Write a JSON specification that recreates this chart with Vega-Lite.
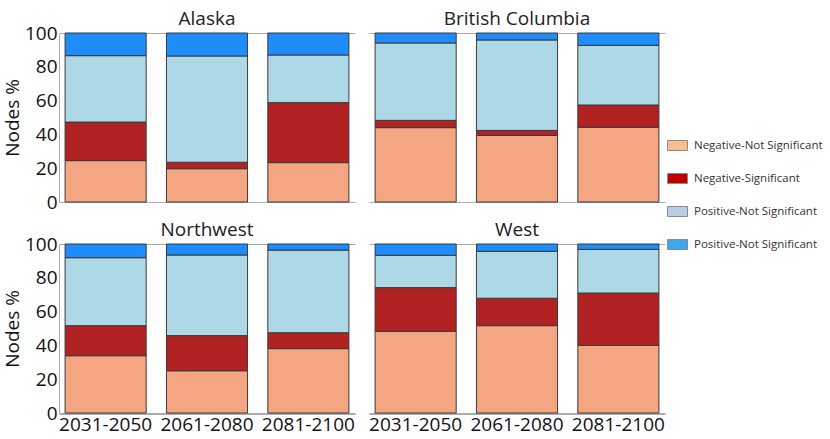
{
  "$schema": "https://vega.github.io/schema/vega-lite/v6.json",
  "background": "white",
  "padding": {"left": 3, "top": 9, "right": 2, "bottom": 2},
  "data": {"values": [
    {"region": "Alaska", "period": "2031-2050", "cat": "Negative-Not Significant", "o": 1, "v": 24.5},
    {"region": "Alaska", "period": "2031-2050", "cat": "Negative-Significant", "o": 2, "v": 22.8},
    {"region": "Alaska", "period": "2031-2050", "cat": "Positive-Not Significant", "o": 3, "v": 39.3},
    {"region": "Alaska", "period": "2031-2050", "cat": "Positive-Significant", "o": 4, "v": 13.4},
    {"region": "Alaska", "period": "2061-2080", "cat": "Negative-Not Significant", "o": 1, "v": 19.7},
    {"region": "Alaska", "period": "2061-2080", "cat": "Negative-Significant", "o": 2, "v": 3.8},
    {"region": "Alaska", "period": "2061-2080", "cat": "Positive-Not Significant", "o": 3, "v": 62.9},
    {"region": "Alaska", "period": "2061-2080", "cat": "Positive-Significant", "o": 4, "v": 13.6},
    {"region": "Alaska", "period": "2081-2100", "cat": "Negative-Not Significant", "o": 1, "v": 23.3},
    {"region": "Alaska", "period": "2081-2100", "cat": "Negative-Significant", "o": 2, "v": 35.5},
    {"region": "Alaska", "period": "2081-2100", "cat": "Positive-Not Significant", "o": 3, "v": 28.2},
    {"region": "Alaska", "period": "2081-2100", "cat": "Positive-Significant", "o": 4, "v": 13.0},
    {"region": "British Columbia", "period": "2031-2050", "cat": "Negative-Not Significant", "o": 1, "v": 44.0},
    {"region": "British Columbia", "period": "2031-2050", "cat": "Negative-Significant", "o": 2, "v": 4.3},
    {"region": "British Columbia", "period": "2031-2050", "cat": "Positive-Not Significant", "o": 3, "v": 45.8},
    {"region": "British Columbia", "period": "2031-2050", "cat": "Positive-Significant", "o": 4, "v": 5.9},
    {"region": "British Columbia", "period": "2061-2080", "cat": "Negative-Not Significant", "o": 1, "v": 39.4},
    {"region": "British Columbia", "period": "2061-2080", "cat": "Negative-Significant", "o": 2, "v": 3.0},
    {"region": "British Columbia", "period": "2061-2080", "cat": "Positive-Not Significant", "o": 3, "v": 53.5},
    {"region": "British Columbia", "period": "2061-2080", "cat": "Positive-Significant", "o": 4, "v": 4.1},
    {"region": "British Columbia", "period": "2081-2100", "cat": "Negative-Not Significant", "o": 1, "v": 44.2},
    {"region": "British Columbia", "period": "2081-2100", "cat": "Negative-Significant", "o": 2, "v": 13.2},
    {"region": "British Columbia", "period": "2081-2100", "cat": "Positive-Not Significant", "o": 3, "v": 35.3},
    {"region": "British Columbia", "period": "2081-2100", "cat": "Positive-Significant", "o": 4, "v": 7.3},
    {"region": "Northwest", "period": "2031-2050", "cat": "Negative-Not Significant", "o": 1, "v": 33.9},
    {"region": "Northwest", "period": "2031-2050", "cat": "Negative-Significant", "o": 2, "v": 17.8},
    {"region": "Northwest", "period": "2031-2050", "cat": "Positive-Not Significant", "o": 3, "v": 40.2},
    {"region": "Northwest", "period": "2031-2050", "cat": "Positive-Significant", "o": 4, "v": 8.1},
    {"region": "Northwest", "period": "2061-2080", "cat": "Negative-Not Significant", "o": 1, "v": 25.0},
    {"region": "Northwest", "period": "2061-2080", "cat": "Negative-Significant", "o": 2, "v": 20.8},
    {"region": "Northwest", "period": "2061-2080", "cat": "Positive-Not Significant", "o": 3, "v": 47.7},
    {"region": "Northwest", "period": "2061-2080", "cat": "Positive-Significant", "o": 4, "v": 6.5},
    {"region": "Northwest", "period": "2081-2100", "cat": "Negative-Not Significant", "o": 1, "v": 38.1},
    {"region": "Northwest", "period": "2081-2100", "cat": "Negative-Significant", "o": 2, "v": 9.4},
    {"region": "Northwest", "period": "2081-2100", "cat": "Positive-Not Significant", "o": 3, "v": 48.9},
    {"region": "Northwest", "period": "2081-2100", "cat": "Positive-Significant", "o": 4, "v": 3.6},
    {"region": "West", "period": "2031-2050", "cat": "Negative-Not Significant", "o": 1, "v": 48.3},
    {"region": "West", "period": "2031-2050", "cat": "Negative-Significant", "o": 2, "v": 25.9},
    {"region": "West", "period": "2031-2050", "cat": "Positive-Not Significant", "o": 3, "v": 19.1},
    {"region": "West", "period": "2031-2050", "cat": "Positive-Significant", "o": 4, "v": 6.7},
    {"region": "West", "period": "2061-2080", "cat": "Negative-Not Significant", "o": 1, "v": 51.7},
    {"region": "West", "period": "2061-2080", "cat": "Negative-Significant", "o": 2, "v": 16.2},
    {"region": "West", "period": "2061-2080", "cat": "Positive-Not Significant", "o": 3, "v": 27.8},
    {"region": "West", "period": "2061-2080", "cat": "Positive-Significant", "o": 4, "v": 4.3},
    {"region": "West", "period": "2081-2100", "cat": "Negative-Not Significant", "o": 1, "v": 40.0},
    {"region": "West", "period": "2081-2100", "cat": "Negative-Significant", "o": 2, "v": 31.0},
    {"region": "West", "period": "2081-2100", "cat": "Positive-Not Significant", "o": 3, "v": 25.8},
    {"region": "West", "period": "2081-2100", "cat": "Positive-Significant", "o": 4, "v": 3.2}
  ]},
  "facet": {"field": "region", "type": "nominal", "header": {"title": null, "labelFontSize": 19, "labelFont": "Open Sans", "labelColor": "#222", "labelPadding": 4}},
  "columns": 2,
  "spacing": {"row": 17, "column": 14},
  "spec": {
    "width": 296,
    "height": 169,
    "mark": {"type": "bar", "stroke": "#3a3a3a", "strokeWidth": 1},
    "encoding": {
      "x": {"field": "period", "type": "nominal", "title": null,
            "scale": {"paddingInner": 0.2, "paddingOuter": 0.06},
            "axis": {"labelAngle": 0, "ticks": false, "labelFontSize": 19, "labelFont": "Open Sans", "labelColor": "#111", "domainColor": "#aaa", "labelPadding": 1}},
      "y": {"field": "v", "type": "quantitative", "stack": "zero", "title": "Nodes %",
            "scale": {"domain": [0, 100], "nice": false},
            "axis": {"values": [0, 20, 40, 60, 80, 100], "ticks": false, "labelOverlap": false, "labelFontSize": 19, "labelFont": "Open Sans", "labelColor": "#111", "labelPadding": 2,
                     "titleFontSize": 19, "titleFont": "Open Sans", "titleFontWeight": "normal", "titleColor": "#111", "titlePadding": 2,
                     "domainColor": "#aaa", "grid": true, "gridColor": "#aaa",
                     "gridOpacity": {"condition": {"test": "datum.value == 100 || datum.value == 0", "value": 1}, "value": 0}}},
      "color": {"field": "cat", "type": "nominal",
                "scale": {"domain": ["Negative-Not Significant", "Negative-Significant", "Positive-Not Significant", "Positive-Significant",
                                     "key:Negative-Not Significant", "key:Negative-Significant", "key:Positive-Not Significant", "key:Positive-Significant"],
                          "range": ["#F4A582", "#B22222", "#ADD8E6", "#1E8CFA", "#FBBE8E", "#C00000", "#B9CDE5", "#3DA6EE"]},
                "legend": {"title": null, "labelFontSize": 11.5, "labelFont": "Open Sans", "labelColor": "#333", "labelOffset": 6,
                           "values": ["key:Negative-Not Significant", "key:Negative-Significant", "key:Positive-Not Significant", "key:Positive-Significant"],
                           "labelExpr": "datum.label == 'key:Positive-Significant' ? 'Positive-Not Significant' : replace(datum.label, 'key:', '')",
                           "symbolType": "M-1,-0.5H1V0.5H-1Z", "symbolSize": 400, "symbolStrokeColor": "#8a8a8a", "symbolStrokeWidth": 1,
                           "rowPadding": 15, "orient": "none", "legendX": 608, "legendY": 102}},
      "order": {"field": "o", "type": "quantitative"}
    }
  },
  "config": {"view": {"stroke": null}, "legend": {"symbolOpacity": 1}}
}
